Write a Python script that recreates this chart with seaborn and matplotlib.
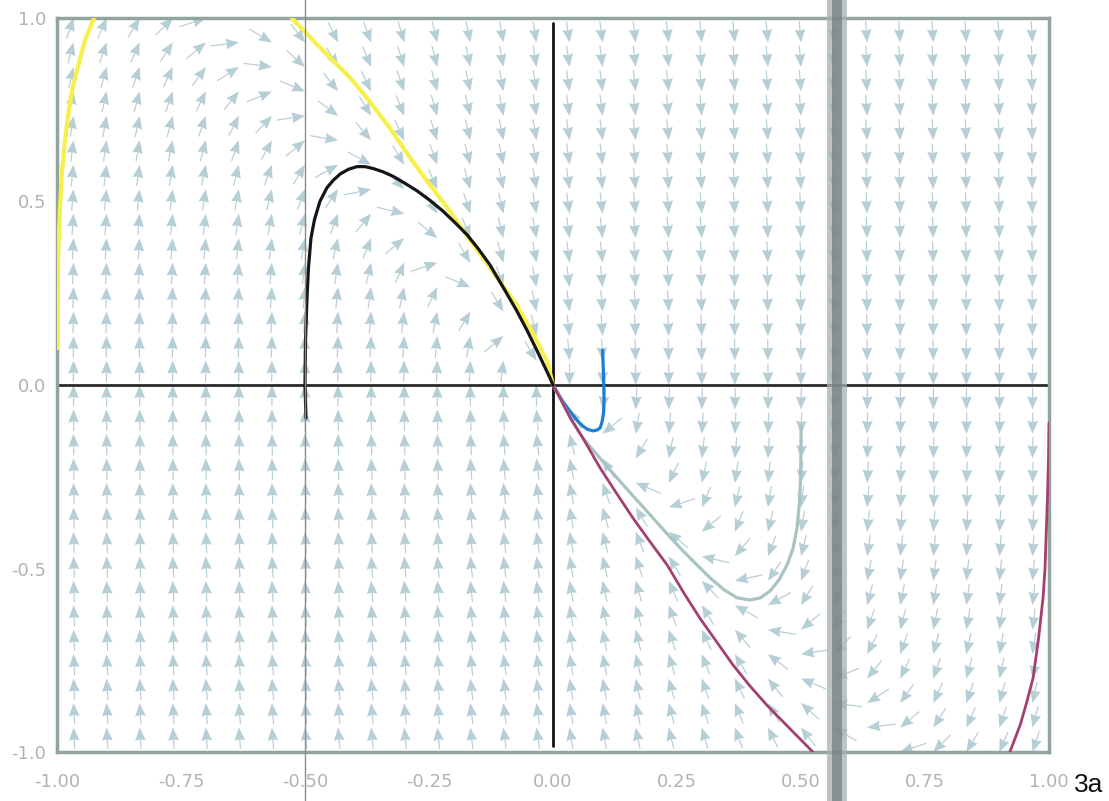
import numpy as np
import pandas as pd
import matplotlib
matplotlib.use("Agg")
import matplotlib.pyplot as plt
from matplotlib.lines import Line2D
from matplotlib.patches import Rectangle
import seaborn as sns

# ---------------- data ----------------
# linear system x' = y, y' = -A*x - B*y (direction field, arrows normalised)
field_coeffs = [13.5, 9.0]   # A, B
grid_x = np.arange(-29, 30, 2) / 30.0
grid_y = np.arange(-15, 16) / 15.0

x_ticks = [-1.0, -0.75, -0.5, -0.25, 0.0, 0.25, 0.5, 0.75, 1.0]
x_tick_labels = ["-1.00", "-0.75", "-0.50", "-0.25", "0.00", "0.25", "0.50", "0.75", "1.00"]
y_ticks = [-1.0, -0.5, 0.0, 0.5, 1.0]
y_tick_labels = ["-1.0", "-0.5", "0.0", "0.5", "1.0"]

# trajectories
yellow_a_x = [-1.000, -0.999, -0.997, -0.994, -0.990, -0.984, -0.977, -0.970, -0.960, -0.944, -0.933, -0.923]
yellow_a_y = [0.100, 0.250, 0.380, 0.482, 0.580, 0.665, 0.740, 0.801, 0.856, 0.937, 0.975, 1.008]
yellow_b_x = [-0.530, -0.470, -0.409, -0.375, -0.330, -0.288, -0.248, -0.208, -0.175, -0.141, -0.107, -0.073, -0.040, -0.012, 0.000]
yellow_b_y = [1.005, 0.920, 0.837, 0.782, 0.702, 0.619, 0.545, 0.474, 0.410, 0.346, 0.282, 0.218, 0.140, 0.065, 0.000]
black_x = [-0.498, -0.500, -0.499, -0.496, -0.493, -0.488, -0.481, -0.470, -0.456, -0.443,
           -0.429, -0.412, -0.395, -0.379, -0.363, -0.343, -0.323, -0.299, -0.274, -0.248,
           -0.222, -0.198, -0.173, -0.150, -0.127, -0.100, -0.073, -0.052, -0.032, -0.006, 0.000]
black_y = [-0.090, 0.000, 0.120, 0.237, 0.320, 0.400, 0.450, 0.500, 0.537, 0.558,
           0.575, 0.588, 0.595, 0.595, 0.590, 0.581, 0.569, 0.550, 0.529, 0.503,
           0.474, 0.443, 0.409, 0.370, 0.327, 0.265, 0.202, 0.148, 0.093, 0.019, 0.000]
blue_x = [0.100, 0.102, 0.103, 0.102, 0.099, 0.095, 0.088, 0.081, 0.070, 0.060, 0.047, 0.034, 0.020, 0.008, 0.000]
blue_y = [0.095, 0.019, -0.040, -0.075, -0.100, -0.117, -0.123, -0.125, -0.121, -0.112, -0.094, -0.071, -0.045, -0.018, 0.000]
gray_x = [0.500, 0.500, 0.499, 0.497, 0.492, 0.484, 0.472, 0.456, 0.438, 0.418, 0.397, 0.371,
          0.345, 0.317, 0.290, 0.262, 0.229, 0.196, 0.162, 0.129, 0.095, 0.060, 0.035, 0.014, 0.000]
gray_y = [-0.109, -0.180, -0.253, -0.320, -0.390, -0.445, -0.490, -0.530, -0.561, -0.580, -0.586, -0.580,
          -0.558, -0.526, -0.490, -0.452, -0.404, -0.354, -0.303, -0.253, -0.200, -0.144, -0.090, -0.035, 0.000]
magenta_a_x = [1.000, 0.999, 0.997, 0.992, 0.988, 0.979, 0.968, 0.955, 0.942, 0.931, 0.921]
magenta_a_y = [-0.104, -0.200, -0.300, -0.499, -0.580, -0.690, -0.798, -0.865, -0.926, -0.965, -1.000]
magenta_b_x = [0.000, 0.014, 0.035, 0.060, 0.095, 0.128, 0.161, 0.195, 0.230, 0.263, 0.296, 0.330, 0.363, 0.397, 0.431, 0.478, 0.524]
magenta_b_y = [0.000, -0.035, -0.090, -0.144, -0.226, -0.295, -0.362, -0.426, -0.490, -0.565, -0.635, -0.700, -0.763, -0.820, -0.872, -0.937, -1.000]

axis_h_x = [-1.0, 1.0]
axis_h_y = [0.0, 0.0]
axis_v_x = [0.0, 0.0]
axis_v_y = [-0.984, 0.986]

# ---------------- plot ----------------
sns.set_theme(style="white")
plt.rcParams["font.family"] = ["DejaVu Sans"]

W, H = 1109, 801
fig = plt.figure(figsize=(W / 100, H / 100), dpi=100)
fig.patch.set_facecolor("white")
ax = fig.add_axes([57 / W, 1 - 752 / H, 992 / W, 734 / H])
ax.set_facecolor("white")

# direction field
A, B = field_coeffs
GX, GY = np.meshgrid(grid_x, grid_y)
U = GY
V = -A * GX - B * GY
N = np.hypot(U, V)
L = 0.058
ax.quiver(GX, GY, U / N * L, V / N * L, angles="xy", scale_units="xy", scale=1,
          pivot="tip", color="#b6ced6", width=0.0012, headwidth=9,
          headlength=11, headaxislength=10, zorder=1)

def draw(xs, ys, color, lw, z=3):
    df = pd.DataFrame({"x": xs, "y": ys})
    sns.lineplot(data=df, x="x", y="y", sort=False, estimator=None, color=color,
                 linewidth=lw, ax=ax, zorder=z)

draw(axis_h_x, axis_h_y, "#2a2a2a", 2.0, 2)
draw(axis_v_x, axis_v_y, "#111111", 2.0, 2)
draw(yellow_a_x, yellow_a_y, "#f7f04a", 3.0)
draw(yellow_b_x, yellow_b_y, "#f7f04a", 3.0)
draw(black_x, black_y, "#151515", 2.3, 4)
draw(blue_x, blue_y, "#1d7fd4", 2.3)
draw(gray_x, gray_y, "#a9c3c3", 2.3)
draw(magenta_b_x, magenta_b_y, "#a3406f", 2.0, 3)
draw(magenta_a_x, magenta_a_y, "#a3406f", 2.0, 3)

ax.set_xlim(-1.0, 1.0)
ax.set_ylim(-1.0, 1.0)
ax.set_xticks(x_ticks)
ax.set_xticklabels(x_tick_labels)
ax.set_yticks(y_ticks)
ax.set_yticklabels(y_tick_labels)
ax.set_xlabel("")
ax.set_ylabel("")
ax.tick_params(axis="both", length=0, labelsize=13, labelcolor="#b3b3b3")
ax.tick_params(axis="x", pad=15)
ax.tick_params(axis="y", pad=8)
for s in ax.spines.values():
    s.set_color("#93a39e")
    s.set_linewidth(2.5)
ax.grid(False)

# scan artefacts (fold line and scanner band)
fig.add_artist(Line2D([305 / W, 305 / W], [0, 1], transform=fig.transFigure,
                      color="#8c8c8c", linewidth=1.0, zorder=10))
fig.add_artist(Rectangle((827 / W, 0), 20 / W, 1, transform=fig.transFigure,
                         facecolor="#a7b0b0", edgecolor="none", alpha=0.75, zorder=10))
fig.add_artist(Rectangle((832 / W, 0), 10 / W, 1, transform=fig.transFigure,
                         facecolor="#6f7c7c", edgecolor="none", alpha=0.7, zorder=11))

fig.text(1074 / W, 1 - 792 / H, "3a", fontsize=19, color="#111111",
         family=["Liberation Sans", "DejaVu Sans"], va="baseline", ha="left")

fig.savefig("out.png", dpi=100, facecolor="white")
